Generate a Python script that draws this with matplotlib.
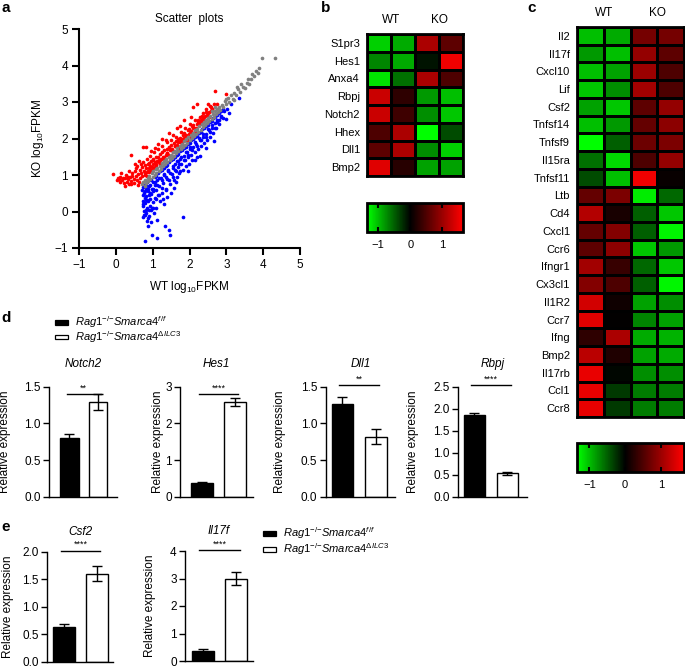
import numpy as np
import matplotlib
matplotlib.use("Agg")
import matplotlib.pyplot as plt
from matplotlib.colors import LinearSegmentedColormap, Normalize
from matplotlib.cm import ScalarMappable
from matplotlib.patches import Rectangle

plt.rcParams['font.family'] = ['Liberation Sans', 'DejaVu Sans']
plt.rcParams['mathtext.fontset'] = 'custom'
plt.rcParams['mathtext.rm'] = 'Liberation Sans'
plt.rcParams['mathtext.it'] = 'Liberation Sans:italic'
plt.rcParams['mathtext.bf'] = 'Liberation Sans:bold'

# ---------------- data: panel a (scatter) ----------------
gray_x = [0.72, 0.75, 0.78, 0.80, 0.83, 0.86, 0.88, 0.91, 0.94, 0.97, 1.00, 1.02, 1.05, 1.08, 1.10, 1.13,
          1.16, 1.19, 1.22, 1.25, 1.28, 1.31, 1.34, 1.37, 1.40, 1.43, 1.46, 1.49, 1.52, 1.55, 1.58, 1.61,
          1.64, 1.67, 1.70, 1.73, 1.76, 1.79, 1.82, 1.85, 1.88, 1.91, 1.94, 1.97, 2.00, 2.03, 2.06, 2.09,
          2.12, 2.15, 2.18, 2.21, 2.24, 2.27, 2.30, 2.33, 2.36, 2.39, 2.42, 2.45, 2.48, 2.51, 2.54, 2.57,
          2.60, 2.63, 2.66, 2.69, 2.72, 2.75, 2.78, 2.81, 2.84, 2.88, 2.92, 2.96, 3.00, 3.04, 3.08, 3.12,
          3.17, 3.22, 3.27, 3.32, 3.38, 3.44, 3.50, 3.56, 3.62, 3.68, 3.75, 3.80, 3.85, 3.88, 3.96, 4.33,
          3.20, 2.98, 2.70, 2.60, 3.40, 3.60, 3.70, 3.30]
gray_y = [0.74, 0.82, 0.70, 0.86, 0.78, 0.92, 0.84, 0.97, 0.88, 1.05, 0.95, 1.10, 1.01, 1.16, 1.06, 1.20,
          1.12, 1.26, 1.17, 1.32, 1.24, 1.38, 1.29, 1.44, 1.35, 1.50, 1.41, 1.55, 1.47, 1.62, 1.53, 1.67,
          1.60, 1.73, 1.65, 1.80, 1.71, 1.86, 1.77, 1.92, 1.83, 1.98, 1.89, 2.04, 1.95, 2.10, 2.01, 2.16,
          2.07, 2.22, 2.12, 2.27, 2.19, 2.33, 2.24, 2.39, 2.31, 2.45, 2.36, 2.51, 2.43, 2.56, 2.48, 2.62,
          2.54, 2.68, 2.60, 2.74, 2.66, 2.80, 2.72, 2.86, 2.78, 2.93, 2.86, 3.02, 2.94, 3.10, 3.00, 3.18,
          3.08, 3.25, 3.18, 3.35, 3.28, 3.42, 3.38, 3.52, 3.48, 3.62, 3.72, 3.85, 3.80, 3.92, 4.21, 4.21,
          3.05, 3.08, 2.85, 2.75, 3.48, 3.62, 3.78, 3.40]

red_x = [-0.07, 0.02, 0.05, 0.10, 0.12, 0.18, 0.22, 0.25, 0.28, 0.30, 0.33, 0.36, 0.38, 0.41, 0.42, 0.45,
         0.48, 0.50, 0.52, 0.55, 0.57, 0.58, 0.60, 0.62, 0.63, 0.65, 0.66, 0.68, 0.70, 0.72, 0.73, 0.75,
         0.81, 0.76, 0.78, 0.80, 0.82, 0.84, 0.86, 0.88, 0.90, 0.92, 0.94, 0.96, 0.98, 1.00, 1.02, 1.04,
         1.06, 1.08, 1.10, 1.12, 1.14, 1.16, 1.18, 1.20, 1.22, 1.25, 1.27, 1.30, 1.32, 1.35, 1.38, 1.40,
         1.42, 1.45, 1.48, 1.50, 1.52, 1.55, 1.58, 1.60, 1.63, 1.65, 1.68, 1.70, 1.73, 1.76, 1.78, 1.80,
         1.83, 1.86, 1.88, 1.90, 1.93, 1.96, 1.98, 2.00, 2.03, 2.06, 2.08, 2.10, 2.12, 2.15, 2.18, 2.20,
         2.22, 2.25, 2.28, 2.30, 2.33, 2.36, 2.38, 2.42, 2.45, 2.48, 2.52, 2.55, 2.58, 2.62, 2.66, 2.70,
         2.75, 3.00, 2.50, 2.05, 1.75, 1.55, 1.35, 1.15, 0.95, 0.52, 0.35, 0.25, 0.15,
         1.00, 1.10, 1.20, 1.30, 1.40, 1.50, 1.60, 1.70, 1.80, 1.90, 2.00, 2.10, 2.20, 2.30, 2.40, 2.50, 2.60,
         0.90, 0.85, 0.95, 1.05,
         0.78, 0.84, 0.90, 0.96, 1.02, 1.08, 1.14, 1.20, 1.26, 1.32, 1.38, 1.44, 1.50, 1.56, 1.62, 1.68,
         1.74, 1.80, 1.86, 1.92, 1.98, 2.04, 2.10, 2.16, 2.22, 2.28, 2.34, 2.40, 2.46, 2.52, 2.58, 1.05,
         1.25, 1.45, 1.65, 1.85, 0.68, 0.55, 0.45, 0.32, 0.20, 0.08, 0.60, 0.40]
red_y = [1.02, 0.86, 0.92, 0.80, 0.95, 0.85, 0.78, 0.92, 1.00, 0.82, 0.88, 0.76, 0.95, 1.55, 0.84, 1.05,
         0.90, 0.78, 1.12, 0.96, 0.85, 1.25, 1.02, 0.80, 1.38, 1.15, 0.92, 1.05, 1.22, 0.98, 1.35, 1.78,
         1.78, 1.10, 1.28, 1.05, 1.18, 1.45, 1.12, 1.30, 1.20, 1.52, 1.25, 1.38, 1.22, 1.45, 1.30, 1.62,
         1.35, 1.28, 1.50, 1.38, 1.72, 1.42, 1.35, 1.58, 1.45, 1.80, 1.50, 1.45, 1.68, 1.55, 1.90, 1.60,
         1.55, 1.78, 1.68, 1.95, 1.72, 1.65, 1.88, 1.80, 2.05, 1.82, 1.78, 1.98, 1.90, 2.18, 1.95, 1.90,
         2.10, 2.02, 2.30, 2.08, 2.02, 2.22, 2.12, 2.40, 2.20, 2.15, 2.35, 2.85, 2.28, 2.50, 2.30, 2.95,
         2.45, 2.38, 2.60, 2.45, 2.52, 2.70, 2.55, 2.62, 2.80, 2.65, 2.72, 2.88, 2.75, 2.82, 2.95, 3.31,
         2.95, 3.22, 2.95, 2.60, 2.35, 2.10, 1.95, 1.85, 1.65, 1.30, 1.10, 0.70, 1.05,
         1.20, 1.30, 1.40, 1.50, 1.60, 1.70, 1.80, 1.90, 2.00, 2.10, 2.20, 2.30, 2.40, 2.50, 2.60, 2.70, 2.80,
         1.08, 0.98, 1.12, 1.22,
         1.00, 1.08, 1.32, 1.15, 1.40, 1.22, 1.50, 1.30, 1.62, 1.42, 1.70, 1.52, 1.82, 1.62, 1.92, 1.72,
         2.02, 1.84, 2.15, 1.95, 2.25, 2.05, 2.38, 2.18, 2.52, 2.40, 2.62, 2.48, 2.72, 2.60, 2.85, 1.75,
         2.00, 2.15, 2.30, 2.50, 1.30, 1.18, 0.98, 0.95, 0.92, 0.88, 0.72, 0.75]

blue_x = [0.72, 0.73, 0.74, 0.75, 0.76, 0.77, 0.78, 0.79, 0.80, 0.81, 0.82, 0.83, 0.84, 0.85, 0.86, 0.87,
          0.88, 0.89, 0.90, 0.91, 0.92, 0.93, 0.95, 0.96, 0.97, 0.98, 1.00, 1.02, 1.03, 1.05, 1.06, 1.08,
          1.10, 1.12, 1.13, 1.13, 1.15, 1.18, 1.20, 1.22, 1.25, 1.28, 1.30, 1.32, 1.34, 1.35, 1.38, 1.40,
          1.42, 1.45, 1.47, 1.48, 1.50, 1.52, 1.55, 1.58, 1.60, 1.62, 1.65, 1.68, 1.70, 1.72, 1.75, 1.78,
          1.81, 1.82, 1.85, 1.88, 1.90, 1.93, 1.96, 1.98, 2.02, 2.05, 2.08, 2.10, 2.14, 2.18, 2.20, 2.24,
          2.28, 2.29, 2.32, 2.36, 2.40, 2.44, 2.48, 2.52, 2.56, 2.60, 2.64, 2.67, 2.68, 2.72, 2.76, 2.80,
          2.85, 2.90, 2.95, 3.00, 3.02, 3.08, 3.12, 3.35,
          0.75, 0.78, 0.80, 0.85, 0.90, 0.95, 1.00, 1.05, 1.10, 1.15, 1.20, 1.25, 1.30, 1.35, 1.40, 1.45,
          1.50, 1.55, 1.60, 1.65, 1.70, 1.75, 1.80, 1.85, 1.90, 1.95, 2.00, 2.05, 2.10, 2.15, 2.20, 2.25,
          2.30, 2.35, 2.40, 2.45, 2.50, 2.55, 2.60, 2.65, 2.70, 2.75, 2.80, 2.85, 2.90,
          1.18, 1.27, 1.37, 1.44, 1.57, 1.63, 0.74, 0.77, 0.81, 0.84, 0.92, 0.99,
          0.82, 0.88, 0.94, 1.00, 1.06, 1.12, 1.18, 1.24, 1.30, 1.36, 1.42, 1.48, 1.54, 1.60, 1.66, 1.72,
          1.78, 1.84, 1.90, 1.96, 2.02, 2.08, 2.14, 2.20, 2.26, 2.32, 2.38, 2.44, 2.50, 2.56, 2.62, 2.68,
          2.74, 2.80, 2.86, 1.10, 1.02, 0.95, 1.25, 1.55, 1.75, 1.95, 2.15, 2.45, 0.78, 0.86, 0.74, 0.83]
blue_y = [0.60, 0.45, 0.30, 0.15, 0.50, 0.02, 0.38, -0.81, 0.22, 0.62, -0.05, 0.42, 0.10, -0.25, 0.55, 0.28,
          -0.19, 0.05, 0.70, -0.12, 0.35, 0.15, -0.30, 0.48, 0.62, -0.64, 0.25, 0.55, -0.05, 0.72, 0.38, 0.10,
          0.60, 0.85, -0.23, -0.73, 0.45, 0.70, 0.30, 0.92, 0.52, 0.78, 0.20, 1.00, -0.40, 0.62, 0.88, 0.40,
          1.10, -0.51, -0.65, 0.75, 0.52, 1.02, 1.20, 0.85, 1.30, 1.12, 0.95, 1.38, 1.22, 1.05, 1.45, 1.30,
          -0.16, 1.15, 1.52, 1.40, 1.25, 1.62, 1.48, 1.30, 1.70, 1.55, 1.40, 1.78, 1.62, 1.85, 1.50, 1.72,
          1.95, 1.53, 1.80, 2.05, 1.88, 2.12, 1.96, 2.22, 2.05, 2.30, 2.15, 1.94, 2.42, 2.28, 2.50, 2.40,
          2.62, 2.55, 2.75, 2.53, 2.82, 2.70, 2.95, 3.10,
          0.68, 0.55, 0.72, 0.80, 0.45, 0.85, 0.80, 0.95, 0.98, 1.05, 1.10, 1.15, 1.18, 1.25, 1.28, 1.35,
          1.40, 1.45, 1.48, 1.55, 1.58, 1.65, 1.68, 1.75, 1.78, 1.85, 1.88, 1.95, 1.98, 2.05, 2.08, 2.15,
          2.18, 2.25, 2.28, 2.35, 2.38, 2.45, 2.48, 2.55, 2.58, 2.65, 2.70, 2.75, 2.80,
          0.45, 0.35, 0.60, 0.85, 0.65, 0.80, 0.20, -0.10, 0.05, 0.32, 0.52, 0.10,
          0.70, 0.62, 0.72, 0.62, 0.80, 0.72, 0.92, 0.85, 1.02, 0.95, 1.15, 1.05, 1.25, 1.15, 1.38, 1.30,
          1.50, 1.40, 1.62, 1.55, 1.78, 1.68, 1.90, 1.80, 2.02, 1.95, 2.12, 2.05, 2.25, 2.18, 2.38, 2.30,
          2.45, 2.50, 2.58, 0.35, 0.10, 0.05, 0.65, 0.95, 1.10, 1.10, 1.42, 1.75, -0.10, -0.40, -0.15, 0.32]

# ---------------- data: heatmaps ----------------
col_groups = ["WT", "KO"]
genes_b = ["S1pr3", "Hes1", "Anxa4", "Rbpj", "Notch2", "Hhex", "Dll1", "Bmp2"]
vals_b = [
    [-1.10, -0.90, 1.10, 0.60],
    [-0.70, -0.90, -0.10, 1.55],
    [-1.20, -0.60, 1.10, 0.50],
    [1.30, 0.30, -0.80, -1.00],
    [1.30, 0.40, -0.75, -1.05],
    [0.50, 1.10, -1.40, -0.40],
    [0.60, 1.10, -0.75, -1.10],
    [1.45, 0.25, -0.85, -0.85],
]
genes_c = ["Il2", "Il17f", "Cxcl10", "Lif", "Csf2", "Tnfsf14", "Tnfsf9", "Il15ra", "Tnfsf11", "Ltb",
           "Cd4", "Cxcl1", "Ccr6", "Ifngr1", "Cx3cl1", "Il1R2", "Ccr7", "Ifng", "Bmp2", "Il17rb",
           "Ccl1", "Ccr8"]
vals_c = [
    [-1.00, -0.90, 0.75, 0.75],
    [-0.80, -1.00, 0.95, 0.60],
    [-1.00, -0.85, 1.00, 0.50],
    [-1.05, -0.75, 1.05, 0.50],
    [-0.85, -1.05, 0.60, 0.95],
    [-1.00, -0.80, 0.65, 0.90],
    [-1.35, -0.50, 0.70, 0.80],
    [-0.60, -1.15, 0.50, 0.95],
    [-0.40, -1.00, 1.55, 0.05],
    [0.65, 0.80, -1.25, -0.55],
    [1.15, 0.15, -0.50, -1.05],
    [0.65, 0.85, -0.50, -1.30],
    [0.60, 0.90, -1.05, -0.80],
    [1.05, 0.35, -0.55, -1.05],
    [0.85, 0.50, -0.50, -1.30],
    [1.35, 0.10, -0.85, -0.75],
    [1.45, 0.02, -0.70, -0.85],
    [0.30, 1.10, -0.90, -0.95],
    [1.20, 0.20, -0.85, -0.90],
    [1.50, -0.03, -0.75, -0.75],
    [1.50, -0.30, -0.65, -0.65],
    [1.50, -0.30, -0.65, -0.65],
]
cbar_ticks = [-1, 0, 1]

# ---------------- data: bar charts ----------------
d_genes = ["Notch2", "Hes1", "Dll1", "Rbpj"]
d_means = [[0.80, 1.29], [0.38, 2.58], [1.26, 0.82], [1.85, 0.53]]
d_errs = [[0.05, 0.11], [0.02, 0.10], [0.10, 0.10], [0.06, 0.04]]
d_sig = ["**", "****", "**", "****"]
d_ymax = [1.5, 3, 1.5, 2.5]
d_ticks = [[0.0, 0.5, 1.0, 1.5], [0, 1, 2, 3], [0.0, 0.5, 1.0, 1.5], [0.0, 0.5, 1.0, 1.5, 2.0, 2.5]]
e_genes = ["Csf2", "Il17f"]
e_means = [[0.64, 1.60], [0.35, 3.00]]
e_errs = [[0.04, 0.14], [0.08, 0.22]]
e_sig = ["****", "****"]
e_ymax = [2.0, 4]
e_ticks = [[0.0, 0.5, 1.0, 1.5, 2.0], [0, 1, 2, 3, 4]]

# ---------------- figure ----------------
W, H = 685, 669
fig = plt.figure(figsize=(W / 100, H / 100), dpi=100)


def px_axes(l, t, r, b):
    return fig.add_axes([l / W, 1 - b / H, (r - l) / W, (b - t) / H])


def ftext(x, y, s, **kw):
    fig.text(x / W, 1 - y / H, s, **kw)


# panel letters
for lab, (x, y) in zip("abcde", [(1, 8), (321, 8), (527, 8), (1, 318), (1, 527)]):
    ftext(x, y, lab, fontsize=11, fontweight='bold', va='center', ha='left')

# ----- panel a -----
ax = px_axes(79, 29, 300, 248)
ax.scatter(red_x, red_y, s=7, c='#ff0000', linewidths=0)
ax.scatter(blue_x, blue_y, s=7, c='#0000ff', linewidths=0)
ax.scatter(gray_x, gray_y, s=7, c='#808080', linewidths=0)
ax.set_xlim(-1, 5)
ax.set_ylim(-1, 5)
ax.set_xticks(range(-1, 6))
ax.set_yticks(range(-1, 6))
for s in ['top', 'right']:
    ax.spines[s].set_visible(False)
for s in ['left', 'bottom']:
    ax.spines[s].set_linewidth(1.5)
ax.tick_params(direction='out', length=5, width=1.5, labelsize=8.5, pad=3)
ax.set_xlabel(r'WT log$_{10}$FPKM', fontsize=8.5, labelpad=6)
ax.set_ylabel(r'KO log$_{10}$FPKM', fontsize=8.5, labelpad=6)
ax.set_title('Scatter  plots', fontsize=8.5, pad=5)

# ----- heatmaps -----
cmap = LinearSegmentedColormap.from_list('gkr', [(0, '#00ff00'), (0.45, '#000000'), (1, '#ff0000')])
norm = Normalize(vmin=-1.35, vmax=1.65)


def heatmap(box, genes, vals, coly, cbox, label_gap):
    hx = px_axes(*box)
    arr = np.array(vals)
    hx.pcolormesh(arr, cmap=cmap, norm=norm, edgecolors='black', linewidth=0.9)
    hx.set_xlim(0, arr.shape[1])
    hx.set_ylim(arr.shape[0], 0)
    hx.set_xticks([])
    hx.set_yticks(np.arange(len(genes)) + 0.5)
    hx.set_yticklabels(genes, fontsize=8)
    hx.tick_params(axis='y', length=0, pad=label_gap)
    for s in hx.spines.values():
        s.set_linewidth(2)
    l, t, r, b = box
    ftext(l + (r - l) * 0.25, coly, col_groups[0], fontsize=8.5, ha='center', va='center')
    ftext(l + (r - l) * 0.75, coly, col_groups[1], fontsize=8.5, ha='center', va='center')
    cx = px_axes(*cbox)
    cb = fig.colorbar(ScalarMappable(norm=norm, cmap=cmap), cax=cx, orientation='horizontal',
                      ticks=cbar_ticks)
    cb.outline.set_linewidth(2)
    cx.tick_params(direction='in', top=True, bottom=True, length=3.5, width=1.5, labelsize=8, pad=6)
    cx.set_xticklabels(['\u22121', '0', '1'])


heatmap((367, 34, 463, 176), genes_b, vals_b, 20, (367, 203, 463, 232), 5)
heatmap((577, 27, 684, 417), genes_c, vals_c, 13, (577, 443, 684, 472), 5)


# ----- bar charts -----
def bar_panel(box, xlim, gene, means, errs, sig, ymax, ticks, fmt, sig_y, label_px, tpad):
    l, t, r, b = box
    bx = px_axes(l, t, r, b)
    xs = [0, 1]
    bx.bar(xs, means, width=0.65, color=['black', 'white'], edgecolor='black', linewidth=1.0,
           yerr=errs, capsize=3.5, error_kw=dict(elinewidth=1.0, capthick=1.0, ecolor='black'))
    bx.set_xlim(*xlim)
    bx.set_ylim(0, ymax)
    bx.set_yticks(ticks)
    bx.set_yticklabels([fmt % v for v in ticks])
    bx.set_xticks([])
    for s in ['top', 'right']:
        bx.spines[s].set_visible(False)
    for s in ['left', 'bottom']:
        bx.spines[s].set_linewidth(1.0)
    bx.tick_params(axis='y', direction='out', length=4, width=1.0, labelsize=8.5, pad=2)
    bx.set_ylabel('Relative expression', fontsize=8.5)
    bx.yaxis.set_label_coords((label_px - l) / (r - l), 0.5)
    bx.set_title(gene, fontsize=8.5, style='italic', pad=tpad)
    bx.plot([-0.1, 1.1], [sig_y, sig_y], color='black', lw=1.0, clip_on=False)
    bx.text(0.5, sig_y + ymax * 0.015, sig, fontsize=6.5, ha='center', va='bottom')
    return bx


d_boxes = [(49.3, 386.7, 116.7, 496.7), (180, 386.7, 253.3, 496.7),
           (325.7, 386.7, 395, 496.7), (458.3, 386.7, 527, 496.7)]
d_xlims = [(-0.7, 1.65), (-0.67, 1.55), (-0.5, 1.58), (-0.49, 1.6)]
d_fmts = ['%.1f', '%d', '%.1f', '%.1f']
d_sigy = [1.40, 2.80, 1.52, 2.54]
d_lab = [11, 164, 286, 419]
for i in range(4):
    bar_panel(d_boxes[i], d_xlims[i], d_genes[i], d_means[i], d_errs[i], d_sig[i],
              d_ymax[i], d_ticks[i], d_fmts[i], d_sigy[i], d_lab[i], 14)

e_boxes = [(47.3, 551.7, 113.3, 662), (185, 551, 252.7, 661)]
e_xlims = [(-0.51, 1.5), (-0.52, 1.48)]
e_fmts = ['%.1f', '%d']
e_sigy = [2.02, 4.04]
e_lab = [14, 156]
for i in range(2):
    bar_panel(e_boxes[i], e_xlims[i], e_genes[i], e_means[i], e_errs[i], e_sig[i],
              e_ymax[i], e_ticks[i], e_fmts[i], e_sigy[i], e_lab[i], 12)

# ----- legends -----
leg_labels = [r'$\mathit{Rag1}^{{-}/{-}}\mathit{Smarca4}^{\mathit{f/f}}$',
              r'$\mathit{Rag1}^{{-}/{-}}\mathit{Smarca4}^{\Delta\mathit{ILC3}}$']


def legend(x0, ys):
    for y, lab, fc in zip(ys, leg_labels, ['black', 'white']):
        fig.add_artist(Rectangle((x0 / W, 1 - (y + 2.5) / H), 13 / W, 5 / H, transform=fig.transFigure,
                                 facecolor=fc, edgecolor='black', linewidth=0.9))
        ftext(x0 + 20, y, lab, fontsize=8, ha='left', va='center')


legend(55, [322.5, 337])
legend(263, [533.5, 549])

fig.savefig('out.png', dpi=100)
